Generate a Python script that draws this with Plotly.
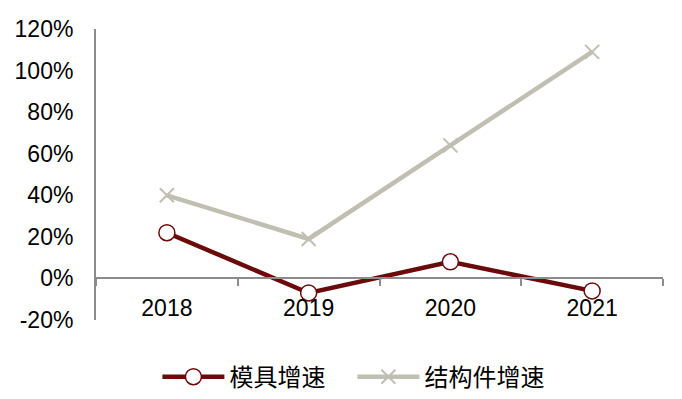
import plotly.graph_objects as go

years = ["2018", "2019", "2020", "2021"]
mould_growth = [22, -7, 8, -6]
structural_growth = [40, 19, 64, 109]
y_ticks = [-20, 0, 20, 40, 60, 80, 100, 120]
y_tick_labels = ["-20%", "0%", "20%", "40%", "60%", "80%", "100%", "120%"]

font_main = "Liberation Sans, Arial, sans-serif"
font_cjk = "Noto Sans CJK SC, sans-serif"

fig = go.Figure()
fig.add_trace(go.Scatter(
    x=years, y=mould_growth, name="模具增速", mode="lines+markers",
    line=dict(color="#6B0A0A", width=4.5),
    marker=dict(symbol="circle", size=16, color="white",
                line=dict(color="#6B0A0A", width=1.5)),
))
fig.add_trace(go.Scatter(
    x=years, y=structural_growth, name="结构件增速", mode="lines+markers",
    line=dict(color="#BFBFB2", width=4.5),
    marker=dict(symbol="x-thin", size=14, color="#BFBFB2",
                line=dict(color="#BFBFB2", width=2)),
))

# page body has an 8px default margin; figure sized to fit the 682x399 window
fig.update_layout(
    width=674, height=391,
    margin=dict(l=88, r=19, t=21, b=79, autoexpand=False),
    plot_bgcolor="white", paper_bgcolor="white",
    font=dict(family=font_main, size=23, color="black"),
    showlegend=True,
    legend=dict(orientation="h", xref="container", yref="container",
                x=0.511, xanchor="center", y=0.056, yanchor="middle",
                font=dict(family=font_cjk, size=24, color="black"),
                itemwidth=62, tracegroupgap=0, itemsizing="trace",
                entrywidth=118),
    xaxis=dict(
        type="category", anchor="free", position=1/7, automargin=False,
        showline=True, linecolor="#8C8C8C", linewidth=2,
        ticks="outside", tickson="boundaries", ticklen=7, tickcolor="#8C8C8C", tickwidth=2,
        showgrid=False, zeroline=False, ticklabelstandoff=9,
        tickfont=dict(family=font_main, size=23, color="black"),
        range=[-0.5, 3.5],
    ),
    yaxis=dict(
        range=[-20, 120], tickvals=y_ticks, ticktext=y_tick_labels,
        automargin=False,
        showline=True, linecolor="#8C8C8C", linewidth=2,
        showgrid=False, zeroline=False, ticks="",
        ticklabelstandoff=16,
        tickfont=dict(family=font_main, size=23, color="black"),
    ),
)

fig.write_html("out.html")
